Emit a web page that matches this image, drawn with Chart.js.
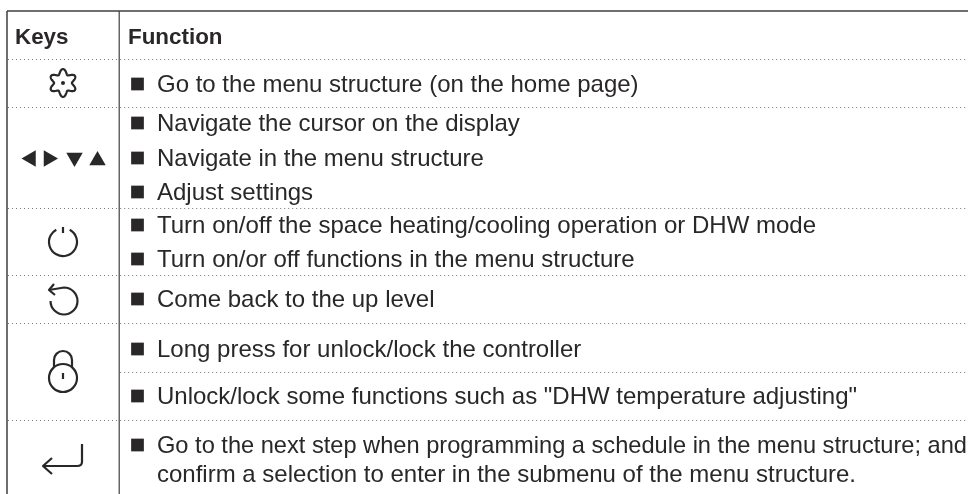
<!DOCTYPE html>
<html>
<head>
<meta charset="utf-8">
<title>Keys and functions</title>
<script src="https://cdn.jsdelivr.net/npm/chart.js@4"></script>
<style>
    html, body { margin: 0; padding: 0; background: #fff; }
    canvas { display: block; }
</style>
</head>
<body>
<canvas id="chKeys" width="968" height="494"></canvas>
<script>
// The table lives in a 968x494 value space, so scale units are the picture's own.
const headers = ['Keys', 'Function'];
const headerX = [15, 128];
const headerY = 43.5;

const lineTexts = [
    'Go to the menu structure (on the home page)',
    'Navigate the cursor on the display',
    'Navigate in the menu structure',
    'Adjust settings',
    'Turn on/off the space heating/cooling operation or DHW mode',
    'Turn on/or off functions in the menu structure',
    'Come back to the up level',
    'Long press for unlock/lock the controller',
    'Unlock/lock some functions such as "DHW temperature adjusting"',
    'Go to the next step when programming a schedule in the menu structure; and',
    'confirm a selection to enter in the submenu of the menu structure.'
];
const lineY = [92, 131, 166, 200, 233, 267, 307, 357, 404, 453, 482];
const lineHasBullet = [1, 1, 1, 1, 1, 1, 1, 1, 1, 1, 0];
// The long line is set tighter than the others in the reference.
const lineMaxWidth = [0, 0, 0, 0, 0, 0, 0, 0, 0, 810, 0];

const tableLeft = 7, tableTop = 11, tableRight = 968, tableBottom = 494, columnX = 119.2;
const fullRules = [59.5, 107.5, 208.5, 275.5, 323.5, 420.5];
const functionOnlyRules = [372.5];

const arrowX = [31, 48.5, 74.5, 97.5];
const arrowY = [158.5, 158.5, 157.5, 160.5];
const arrowRotation = [270, 90, 180, 0];

const iconX = [63, 63, 64, 63, 63];
const iconY = [83, 242, 301, 370, 459];
const iconNames = ['gear', 'power', 'back', 'lock', 'enter'];

const INK = '#2a2728';
const RULE = '#3f3f3f';
const DOT = '#777777';
const FONT = "'Liberation Sans', Arial, sans-serif";

// Key icons are small offscreen canvases handed to Chart.js as point styles.
const ICON_PAINTERS = {
    gear(c) {
        c.beginPath();
        for (let i = 0; i <= 180; i++) {
            const a = i / 180 * Math.PI * 2;
            const r = 11.4 + 2.5 * Math.cos(6 * a);
            c.lineTo(Math.sin(a) * r, -Math.cos(a) * r);
        }
        c.closePath();
        c.stroke();
        c.beginPath();
        c.arc(0, 0, 2, 0, Math.PI * 2);
        c.fill();
    },
    power(c) {
        c.beginPath();
        c.arc(0, 0, 14, -Math.PI / 2 + .5, -Math.PI / 2 - .5);
        c.stroke();
        c.beginPath();
        c.moveTo(0, -15);
        c.lineTo(0, -9);
        c.stroke();
    },
    back(c) {
        c.beginPath();
        c.moveTo(-15, -11);
        c.lineTo(0, -13.5);
        c.arc(0, 0, 13.5, -Math.PI / 2, Math.PI, false);
        c.stroke();
        c.beginPath();
        c.moveTo(-10, -17);
        c.lineTo(-15, -11);
        c.lineTo(-9, -6);
        c.stroke();
    },
    lock(c) {
        c.beginPath();
        c.arc(0, 8, 14, 0, Math.PI * 2);
        c.stroke();
        c.beginPath();
        c.moveTo(-9, -3);
        c.lineTo(-9, -10);
        c.arc(0, -10, 9, Math.PI, 0);
        c.lineTo(9, -3);
        c.stroke();
        c.beginPath();
        c.moveTo(0, 3);
        c.lineTo(0, 9);
        c.stroke();
    },
    enter(c) {
        c.beginPath();
        c.moveTo(19, -15);
        c.lineTo(19, 3);
        c.quadraticCurveTo(19, 7, 14, 7);
        c.lineTo(-20, 7);
        c.stroke();
        c.beginPath();
        c.moveTo(-11, -1);
        c.lineTo(-20, 7);
        c.lineTo(-11, 15);
        c.stroke();
    }
};

const makeIcon = (name) => {
    const cv = document.createElement('canvas');
    cv.width = 64;
    cv.height = 64;
    const c = cv.getContext('2d');
    c.translate(32, 32);
    c.strokeStyle = INK;
    c.fillStyle = INK;
    c.lineWidth = 2.2;
    c.lineJoin = 'round';
    ICON_PAINTERS[name](c);
    return cv;
};

const rule = (points, color, width, dash) => ({
    data: points,
    showLine: true,
    pointRadius: 0,
    borderColor: color,
    borderWidth: width,
    borderDash: dash || [],
    fill: false
});

const hSpan = (y, a, b) => [{ x: a, y }, { x: b, y }];
const DOTS = [1, 3];

const datasets = [
    rule(hSpan(tableTop, tableLeft, tableRight), RULE, 1.5),
    rule([{ x: tableLeft, y: tableTop }, { x: tableLeft, y: tableBottom }], RULE, 1.5),
    rule([{ x: columnX, y: tableTop }, { x: columnX, y: tableBottom }], RULE, 1.2)
];
fullRules.forEach(y => {
    datasets.push(rule(hSpan(y, tableLeft + 1, columnX - 1), DOT, 1, DOTS));
    datasets.push(rule(hSpan(y, columnX + 1, tableRight), DOT, 1, DOTS));
});
functionOnlyRules.forEach(y => datasets.push(rule(hSpan(y, columnX + 1, tableRight), DOT, 1, DOTS)));

// Bullets
datasets.push({
    data: lineY.filter((_, i) => lineHasBullet[i]).map(y => ({ x: 137.5, y: y - 8 })),
    pointStyle: 'rect',
    pointRadius: 9,
    backgroundColor: INK,
    borderWidth: 0
});
// Cursor keys
datasets.push({
    data: arrowX.map((x, i) => ({ x, y: arrowY[i] })),
    pointStyle: 'triangle',
    rotation: arrowRotation,
    pointRadius: 9.5,
    backgroundColor: INK,
    borderWidth: 0
});
// Other keys
datasets.push({
    data: iconX.map((x, i) => ({ x, y: iconY[i] })),
    pointStyle: iconNames.map(makeIcon),
    pointRadius: 16,
    borderWidth: 0
});

const tableText = {
    id: 'tableText',
    afterDatasetsDraw(chart) {
        const { ctx, scales: { x, y } } = chart;
        ctx.save();
        ctx.fillStyle = INK;
        ctx.textAlign = 'left';
        ctx.textBaseline = 'alphabetic';
        ctx.font = `bold 22.4px ${FONT}`;
        headers.forEach((h, i) => ctx.fillText(h, x.getPixelForValue(headerX[i]), y.getPixelForValue(headerY)));
        ctx.font = `24px ${FONT}`;
        lineTexts.forEach((t, i) => {
            const px = x.getPixelForValue(157), py = y.getPixelForValue(lineY[i]);
            if (lineMaxWidth[i]) ctx.fillText(t, px, py, lineMaxWidth[i]);
            else ctx.fillText(t, px, py);
        });
        ctx.restore();
    }
};

new Chart(document.getElementById('chKeys'), {
    type: 'scatter',
    data: { datasets },
    plugins: [tableText],
    options: {
        responsive: false,
        animation: false,
        events: [],
        layout: { padding: 0, autoPadding: false },
        plugins: { legend: { display: false }, tooltip: { enabled: false } },
        scales: {
            x: { type: 'linear', display: false, min: 0, max: 968 },
            y: { type: 'linear', display: false, min: 0, max: 494, reverse: true }
        }
    }
});
</script>
</body>
</html>
